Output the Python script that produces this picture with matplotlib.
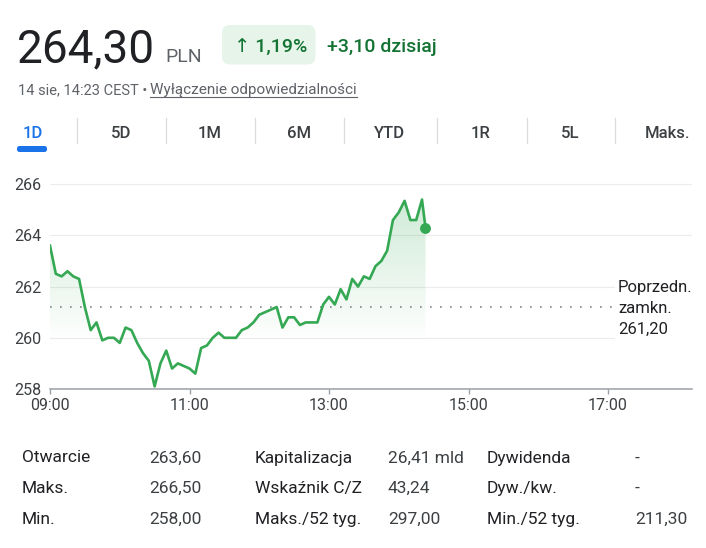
import numpy as np
import matplotlib
matplotlib.use("Agg")
import matplotlib.pyplot as plt
from matplotlib.patches import FancyBboxPatch, Polygon, Rectangle
from matplotlib.colors import to_rgb

plt.rcParams["font.family"] = ["Roboto", "DejaVu Sans"]

# ── dane notowań (1D, co 5 minut) ─────────────────────────────
TIMES = ["09:00", "09:05", "09:10", "09:15", "09:20", "09:25", "09:30", "09:35",
         "09:40", "09:45", "09:50", "09:55", "10:00", "10:05", "10:10", "10:15",
         "10:20", "10:25", "10:30", "10:35", "10:40", "10:45", "10:50", "10:55",
         "11:00", "11:05", "11:10", "11:15", "11:20", "11:25", "11:30", "11:35",
         "11:40", "11:45", "11:50", "11:55", "12:00", "12:05", "12:10", "12:15",
         "12:20", "12:25", "12:30", "12:35", "12:40", "12:45", "12:50", "12:55",
         "13:00", "13:05", "13:10", "13:15", "13:20", "13:25", "13:30", "13:35",
         "13:40", "13:45", "13:50", "13:55", "14:00", "14:05", "14:10", "14:15",
         "14:20", "14:23"]
PRICES = [263.6, 262.5, 262.4, 262.6, 262.4, 262.3, 261.2, 260.3,
          260.6, 259.9, 260.0, 260.0, 259.8, 260.4, 260.3, 259.8,
          259.4, 259.1, 258.1, 259.0, 259.5, 258.8, 259.0, 258.9,
          258.8, 258.6, 259.6, 259.7, 260.0, 260.2, 260.0, 260.0,
          260.0, 260.3, 260.4, 260.6, 260.9, 261.0, 261.1, 261.2,
          260.4, 260.8, 260.8, 260.5, 260.6, 260.6, 260.6, 261.3,
          261.6, 261.3, 261.9, 261.5, 262.3, 262.0, 262.4, 262.3,
          262.8, 263.0, 263.4, 264.6, 264.9, 265.35, 264.6, 264.6,
          265.4, 264.3]
PREV_CLOSE = 261.20
Y_TICKS = [258, 260, 262, 264, 266]
X_TICKS = ["09:00", "11:00", "13:00", "15:00", "17:00"]

PRICE_TXT = "264,30"
CURRENCY = "PLN"
CHANGE_PCT = "1,19%"
CHANGE_ABS = "+3,10 dzisiaj"
STAMP = "14 sie, 14:23 CEST • "
DISCLAIMER = "Wyłączenie odpowiedzialności"
TABS = ["1D", "5D", "1M", "6M", "YTD", "1R", "5L", "Maks."]

STAT_LABELS = [["Otwarcie", "Maks.", "Min."],
               ["Kapitalizacja", "Wskaźnik C/Z", "Maks./52 tyg."],
               ["Dywidenda", "Dyw./kw.", "Min./52 tyg."]]
STAT_VALUES = [["263,60", "266,50", "258,00"],
               ["26,41 mld", "43,24", "297,00"],
               ["-", "-", "211,30"]]

# ── kolory ────────────────────────────────────────────────────
GREEN = "#34a853"
DARK_GREEN = "#137333"
TXT = "#202124"
TXT2 = "#3c4043"
GREY = "#5f6368"
BLUE = "#1a73e8"

W, H = 706, 548


def to_hours(t):
    h, m = t.split(":")
    return int(h) + int(m) / 60


fig = plt.figure(figsize=(W / 100, H / 100), dpi=100)
fig.patch.set_facecolor("white")

# warstwa tła w pikselach (nagłówek, zakładki, tabela)
bg = fig.add_axes([0, 0, 1, 1])
bg.set_xlim(0, W)
bg.set_ylim(H, 0)
bg.axis("off")

# ── nagłówek ──────────────────────────────────────────────────
bg.text(17, 62, PRICE_TXT, fontsize=33, color=TXT, va="baseline")
bg.text(165, 61.5, CURRENCY, fontsize=14, color=GREY, va="baseline")
bg.add_patch(FancyBboxPatch((222, 25), 93.5, 39.5,
                            boxstyle="round,pad=0,rounding_size=8",
                            fc="#e6f4ea", ec="none"))
bg.text(234, 52.5, "↑ " + CHANGE_PCT, fontsize=14, color=DARK_GREEN,
        va="baseline", fontweight="medium")
bg.text(327, 52.5, CHANGE_ABS, fontsize=14, color=DARK_GREEN,
        va="baseline", fontweight="medium")

bg.text(18, 94, STAMP, fontsize=10.5, color=GREY, va="baseline")
disc = bg.text(150, 94, DISCLAIMER, fontsize=11, color=GREY, va="baseline")

# ── zakładki zakresu ──────────────────────────────────────────
tab_x = [33, 121, 210, 299, 390, 481, 570, 668]
for lbl, x in zip(TABS, tab_x):
    bg.text(x, 138, lbl, fontsize=12, ha="center", va="baseline",
            color=BLUE if lbl == "1D" else TXT2, fontweight="medium")
for x in [77, 166, 255, 344, 437, 527, 615]:
    bg.plot([x, x], [118, 143], color="#dadce0", lw=0.9)
bg.add_patch(FancyBboxPatch((17, 146), 30, 6,
                            boxstyle="round,pad=0,rounding_size=2.5",
                            fc=BLUE, ec="none"))

# ── tabela statystyk ──────────────────────────────────────────
label_x = [22, 255, 487]
value_x = [149, 388, 635]
row_y = [462.5, 493.2, 523.8]
for c in range(3):
    for r in range(3):
        bg.text(label_x[c], row_y[r], STAT_LABELS[c][r], fontsize=12.5,
                color=TXT, va="baseline")
        bg.text(value_x[c], row_y[r], STAT_VALUES[c][r], fontsize=12.5,
                color=TXT2, va="baseline")

# ── wykres ────────────────────────────────────────────────────
px_per_h = 69.75
px_per_unit = 25.6
ax = fig.add_axes([50 / W, (H - 389) / H, 642 / W, 220 / H])
ax.patch.set_visible(False)
xs = np.array([to_hours(t) for t in TIMES])
ys = np.array(PRICES)
x_lo, x_hi = 9, 9 + 642 / px_per_h
y_lo, y_hi = Y_TICKS[0], Y_TICKS[0] + 220 / px_per_unit

# gradient pod linią
rgb = to_rgb(GREEN)
yy = np.linspace(y_hi, y_lo, 300)
alpha = np.clip((yy - 259.8) / (266 - 259.8), 0, 1) * 0.26
grad = np.zeros((300, 1, 4))
grad[:, 0, :3] = rgb
grad[:, 0, 3] = alpha
im = ax.imshow(grad, extent=[xs[0], xs[-1], y_lo, y_hi], origin="upper",
               aspect="auto", zorder=1, interpolation="bilinear")
verts = [(xs[0], y_lo)] + list(zip(xs, ys)) + [(xs[-1], y_lo)]
clip = Polygon(verts, closed=True, transform=ax.transData)
im.set_clip_path(clip)

ax.axhline(PREV_CLOSE, xmin=0, xmax=(615 - 50) / 642, color="#80868b",
           lw=1.2, ls=(0, (1, 5)), zorder=2)
ax.plot(xs, ys, color=GREEN, lw=1.9, zorder=3)
ax.plot(xs[-1], ys[-1], "o", color=GREEN, ms=6.8, zorder=4)

ax.set_xlim(x_lo, x_hi)
ax.set_ylim(y_lo, y_hi)
ax.set_yticks(Y_TICKS)
ax.set_yticklabels([str(v) for v in Y_TICKS])
ax.set_xticks([to_hours(t) for t in X_TICKS])
ax.set_xticklabels(X_TICKS)
ax.yaxis.grid(True, color="#ececec", lw=0.8, zorder=0)
ax.set_axisbelow(True)
for s in ["top", "right", "left"]:
    ax.spines[s].set_visible(False)
ax.spines["bottom"].set_color("#9aa0a6")
ax.spines["bottom"].set_linewidth(1.1)
ax.tick_params(axis="y", length=0, pad=6, labelsize=11.5, labelcolor=TXT2)
ax.tick_params(axis="x", length=3.6, width=1, color="#9aa0a6", pad=3,
               labelsize=11.5, labelcolor=TXT2)

# etykieta poprzedniego zamknięcia (na białym tle, nad siatką)
fig.add_artist(Rectangle((615 / W, 1 - 341 / H), 90 / W, 63 / H,
                         transform=fig.transFigure, fc="white", ec="none",
                         zorder=4))
for y, t in zip([292, 313, 334], ["Poprzedn.", "zamkn.", "261,20"]):
    fig.text(618 / W, 1 - y / H, t, fontsize=12, color=TXT, va="baseline",
             zorder=5)

# podkreślenie linku
fig.canvas.draw()
bb = disc.get_window_extent()
inv = bg.transData.inverted()
ux0 = inv.transform((bb.x0, bb.y0))[0]
ux1 = inv.transform((bb.x1, bb.y0))[0]
bg.plot([ux0, ux1], [96.5, 96.5], color=GREY, lw=0.8)

fig.savefig("out.png", dpi=100)
